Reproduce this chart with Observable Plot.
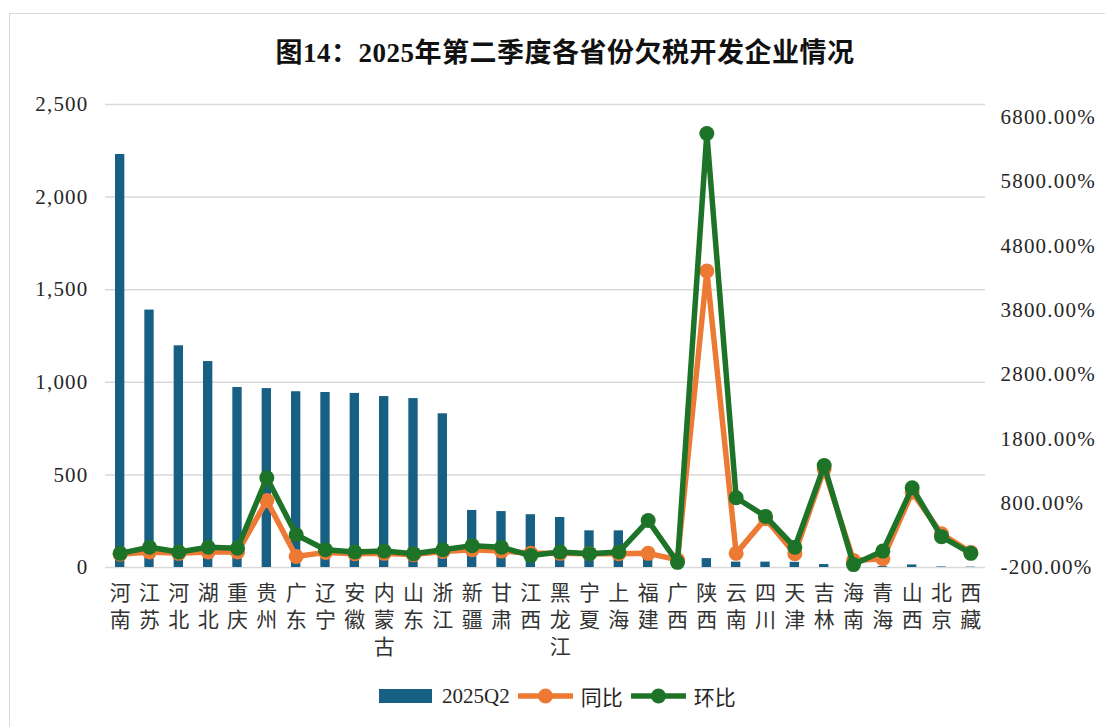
<!DOCTYPE html>
<html>
<head>
<meta charset="utf-8">
<script src="https://cdn.jsdelivr.net/npm/d3@7"></script>
<script src="https://cdn.jsdelivr.net/npm/@observablehq/plot@0.6"></script>
<style>
  body { margin: 0; background: #fff; font-family: 'Liberation Serif', 'Noto Sans CJK SC', serif; }
  #frame { position: absolute; left: 9px; top: 13px; width: 1130px; height: 760px; border: 1px solid #d9d9d9; box-sizing: border-box; }
  #title { position: absolute; left: 0; top: 31px; width: 1130px; text-align: center; font-size: 27px; font-weight: 600; color: #111; letter-spacing: 0.5px; }
  #chart { position: absolute; left: 10px; top: 90px; }
  #legend { position: absolute; top: 681px; left: 379px; display: flex; align-items: center; font-size: 21px; color: #262626; }
  #legend .item { display: flex; align-items: center; margin-right: 8px; }
  #legend svg { margin-right: 8px; }
  .tick-lbl text { letter-spacing: 1.2px; }
</style>
</head>
<body>
<div id="frame"></div>
<div id="title">图14：2025年第二季度各省份欠税开发企业情况</div>
<div id="chart"></div>
<div id="legend"></div>
<script>
const provinces = ["河南","江苏","河北","湖北","重庆","贵州","广东","辽宁","安徽","内蒙古","山东","浙江","新疆","甘肃","江西","黑龙江","宁夏","上海","福建","广西","陕西","云南","四川","天津","吉林","海南","青海","山西","北京","西藏"];
const counts2025Q2 = [2230,1390,1197,1112,972,966,949,945,940,923,912,830,308,302,285,270,198,198,65,10,48,29,29,28,16,5,5,14,3,2];
const yoyPct = [5,40,20,40,40,840,-30,35,15,20,0,50,75,55,20,20,15,15,20,-80,4410,20,560,15,1330,-90,-65,970,325,35];
const qoqPct = [20,115,40,115,100,1195,310,75,40,55,15,75,140,115,-15,40,15,40,530,-120,6550,885,595,115,1385,-155,55,1040,280,20];
const seriesNames = ["2025Q2","同比","环比"];
const leftTicks = [0,500,1000,1500,2000,2500];
const rightTicks = [-200,800,1800,2800,3800,4800,5800,6800];

const barColor = "#175f83", orange = "#ec7a34", green = "#1d7328";
const leftMax = 2500, rightMin = -200, rightMax = 7000;
const toLeft = v => (v - rightMin) / (rightMax - rightMin) * leftMax;
const fromLeft = p => p / leftMax * (rightMax - rightMin) + rightMin;

const rows = provinces.map((p, i) => ({p, count: counts2025Q2[i], yoy: yoyPct[i], qoq: qoqPct[i]}));
const font = "'Liberation Serif', 'Noto Sans CJK SC', serif";

const chart = Plot.plot({
  width: 1095, height: 585,
  marginTop: 14, marginBottom: 108, marginLeft: 95, marginRight: 120,
  style: {fontFamily: font, fontSize: "21px", color: "#262626", background: "transparent"},
  x: {domain: provinces, padding: 0, round: false, axis: null},
  y: {domain: [0, leftMax], axis: null},
  marks: [
    Plot.gridY(leftTicks, {stroke: "#d9d9d9", strokeOpacity: 1, strokeWidth: 1.5}),
    Plot.axisY({ticks: leftTicks, tickFormat: d3.format(","), tickSize: 0, tickPadding: 17, fontSize: 21, label: null, className: "tick-lbl"}),
    Plot.axisY({anchor: "right", ticks: rightTicks.map(toLeft), tickFormat: p => fromLeft(p).toFixed(2) + "%", tickSize: 0, tickPadding: 15, fontSize: 21, label: null, className: "tick-lbl"}),
    Plot.axisX({tickSize: 0, tickPadding: 13, tickFormat: d => [...d].join("\n"), lineHeight: 1.3, fontSize: 21, label: null, fontFamily: "'Noto Sans CJK SC', sans-serif", fill: "#333"}),
    Plot.barY(rows, {x: "p", y: "count", fill: barColor, insetLeft: 10, insetRight: 10}),
    Plot.line(rows, {x: "p", y: d => toLeft(d.yoy), stroke: orange, strokeWidth: 5.5, strokeLinejoin: "round"}),
    Plot.dot(rows, {x: "p", y: d => toLeft(d.yoy), r: 7.5, fill: orange, stroke: "none"}),
    Plot.line(rows, {x: "p", y: d => toLeft(d.qoq), stroke: green, strokeWidth: 5.5, strokeLinejoin: "round"}),
    Plot.dot(rows, {x: "p", y: d => toLeft(d.qoq), r: 7.5, fill: green, stroke: "none"})
  ]
});
document.getElementById("chart").appendChild(chart);

// legend
const legend = document.getElementById("legend");
const colors = [barColor, orange, green];
seriesNames.forEach((name, i) => {
  const item = document.createElement("div");
  item.className = "item";
  const ns = "http://www.w3.org/2000/svg";
  const s = document.createElementNS(ns, "svg");
  s.setAttribute("width", 55); s.setAttribute("height", 20);
  if (i === 0) {
    const r = document.createElementNS(ns, "rect");
    r.setAttribute("x", 0); r.setAttribute("y", 3); r.setAttribute("width", 53); r.setAttribute("height", 14);
    r.setAttribute("fill", colors[i]);
    s.appendChild(r);
  } else {
    const l = document.createElementNS(ns, "line");
    l.setAttribute("x1", 1); l.setAttribute("x2", 54); l.setAttribute("y1", 10); l.setAttribute("y2", 10);
    l.setAttribute("stroke", colors[i]); l.setAttribute("stroke-width", 5.5); l.setAttribute("stroke-linecap", "round");
    const c = document.createElementNS(ns, "circle");
    c.setAttribute("cx", 27.5); c.setAttribute("cy", 10); c.setAttribute("r", 7.5); c.setAttribute("fill", colors[i]);
    s.appendChild(l); s.appendChild(c);
  }
  item.appendChild(s);
  const t = document.createElement("span");
  t.textContent = name;
  item.appendChild(t);
  legend.appendChild(item);
});
</script>
</body>
</html>
